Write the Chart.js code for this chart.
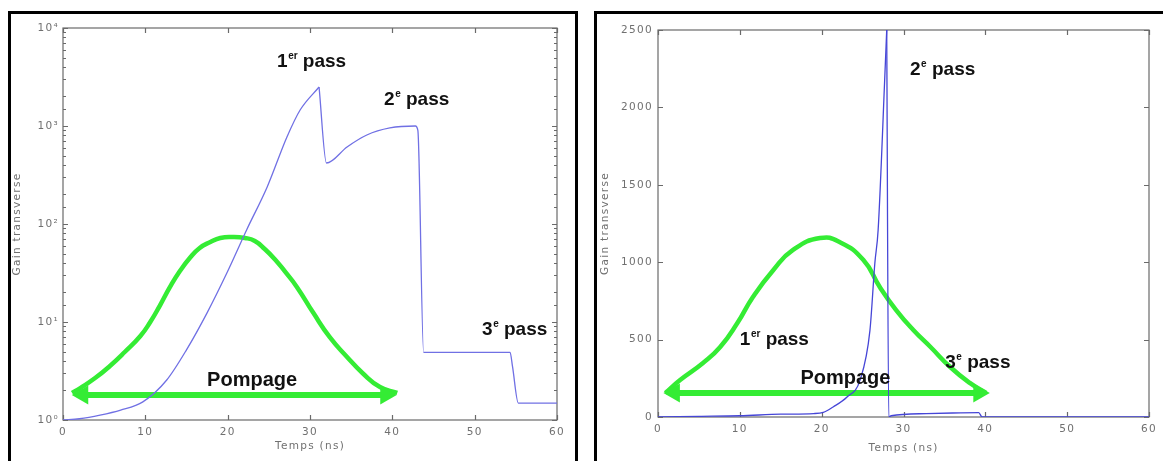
<!DOCTYPE html>
<html>
<head>
<meta charset="utf-8">
<script src="https://cdn.jsdelivr.net/npm/chart.js@4.4.1/dist/chart.umd.min.js"></script>
<style>
  body { margin: 0; background: #fff; width: 1163px; height: 461px; overflow: hidden; position: relative; }
  canvas { position: absolute; top: 0; }
  #leftChart { left: 0; }
  #rightChart { left: 586px; }
  .frame { position: absolute; top: 11px; border: 3px solid #000; border-bottom: none; height: 470px; pointer-events: none; }
  #leftFrame { left: 8px; width: 564px; }
  #rightFrame { left: 594px; width: 600px; }
</style>
</head>
<body>
<canvas id="leftChart" width="586" height="461"></canvas>
<canvas id="rightChart" width="577" height="461"></canvas>
<div class="frame" id="leftFrame"></div>
<div class="frame" id="rightFrame"></div>
<script>
// left panel (log scale)
const leftTime = [0, 2, 4.5, 7, 9.7, 12.6, 15.0, 17.5, 19.9, 22.3, 24.8, 27.2, 28.8, 31.1, 32.0, 34.5, 36.9, 39.7, 42.8, 43.1, 43.8, 54.3, 54.6, 55.3, 60];
const leftGain = [1, 1.03, 1.12, 1.26, 1.53, 2.56, 5.2, 12.4, 31.6, 87, 239, 773, 1456, 2500, 419, 611, 809, 955, 1000, 900, 4.9, 4.9, 3.5, 1.49, 1.49];
const leftPumpTime = [1.1, 2.1, 3.9, 5.7, 7.5, 9.4, 10.6, 11.8, 13.0, 14.2, 15.4, 16.6, 17.9, 19.1, 20.6, 22.1, 23.3, 24.5, 25.7, 27.0, 28.4, 30.4, 32.4, 34.5, 36.4, 38.5, 40.6];
const leftPumpGain = [1.89, 2.12, 2.68, 3.56, 4.94, 7.2, 10, 14.9, 22.8, 33.1, 45, 56.9, 65.5, 72, 73.7, 72, 67.1, 55.6, 44, 32.4, 22.8, 12.4, 7.0, 4.4, 3.0, 2.17, 1.89];
const leftArrowTime = [2.4, 39.2];
const leftArrowGain = [1.8, 1.8];

// right panel (linear scale)
const rightTime = [0, 5, 10, 15, 19, 20.2, 21.4, 23.1, 24.7, 25.9, 26.5, 26.9, 27.7, 27.95, 28.2, 28.5, 32.8, 36, 39.2, 39.6, 60];
const rightGain = [0, 4, 8, 18, 22, 30, 65, 129, 240, 560, 995, 1208, 2177, 2500, 0, 8, 22, 26, 28, 0, 0];
const rightPumpTime = [0.9, 2.7, 5.5, 7.6, 9.7, 11.6, 14.1, 16.5, 19.8, 22.2, 25.1, 27.1, 29.1, 31.2, 33.3, 35.7, 38.1, 40.1];
const rightPumpGain = [155, 239, 349, 452, 607, 775, 950, 1079, 1156, 1130, 1014, 840, 691, 562, 452, 323, 220, 155];
const rightArrowTime = [2.0, 39.2];
const rightArrowGain = [155, 155];

// annotations
const leftNoteBase = ['1', '2', '3', 'Pompage'];
const leftNoteSup = ['er', 'e', 'e', ''];
const leftNoteX = [26.0, 39.0, 50.9, 17.5];
const leftNoteY = [4500, 1842, 8.3, 2.56];
const rightNoteBase = ['2', '1', '3', 'Pompage'];
const rightNoteSup = ['e', 'er', 'e', ''];
const rightNoteX = [30.8, 10.0, 35.1, 17.4];
const rightNoteY = [2242, 497, 349, 252];

const xTickStep = 10;
const supDigits = ['\u2070', '\u00b9', '\u00b2', '\u00b3', '\u2074'];

const BLUE_L = 'rgb(112,112,228)';
const BLUE_R = 'rgb(70,70,215)';
const GREEN = 'rgb(52,236,52)';
const AXIS = '#6a6a6a';
const LABEL = '#707070';
const AXIS_FONT = { family: '"DejaVu Sans", sans-serif', size: 10.5 };

const zip = (xs, ys) => xs.map((x, i) => ({ x: x, y: ys[i] }));

// MATLAB-like box with inward ticks, plus the bold annotations
const matlabBox = {
    id: 'matlabBox',
    beforeDraw(chart) {
        // axis text in the picture is widely spaced
        chart.ctx.letterSpacing = '1.3px';
    },
    beforeDatasetsDraw(chart) {
        const { ctx, chartArea: a, scales } = chart;
        ctx.save();
        ctx.strokeStyle = AXIS;
        ctx.lineWidth = 1.2;
        ctx.strokeRect(a.left, a.top, a.right - a.left, a.bottom - a.top);
        ctx.beginPath();
        scales.x.ticks.forEach((t) => {
            const px = Math.round(scales.x.getPixelForValue(t.value)) + 0.5;
            ctx.moveTo(px, a.bottom); ctx.lineTo(px, a.bottom - 5);
            ctx.moveTo(px, a.top); ctx.lineTo(px, a.top + 5);
        });
        scales.y.ticks.forEach((t) => {
            const l = Math.log10(t.value);
            const major = scales.y.type !== 'logarithmic' || Math.abs(l - Math.round(l)) < 1e-9;
            const len = major ? 5 : 3;
            const py = Math.round(scales.y.getPixelForValue(t.value)) + 0.5;
            ctx.moveTo(a.left, py); ctx.lineTo(a.left + len, py);
            ctx.moveTo(a.right, py); ctx.lineTo(a.right - len, py);
        });
        ctx.stroke();
        ctx.restore();
    },
    afterDatasetsDraw(chart) {
        const n = chart.options.plugins.matlabBox;
        const { ctx, scales } = chart;
        ctx.save();
        ctx.letterSpacing = '0px';
        ctx.fillStyle = '#111';
        ctx.textBaseline = 'middle';
        ctx.textAlign = 'left';
        n.base.forEach((b, i) => {
            let px = scales.x.getPixelForValue(n.x[i]);
            const py = scales.y.getPixelForValue(n.y[i]);
            if (!n.sup[i]) {
                ctx.font = 'bold 20px "Liberation Sans", Arial, sans-serif';
                ctx.fillText(b, px, py);
                return;
            }
            ctx.font = 'bold 19px "Liberation Sans", Arial, sans-serif';
            ctx.fillText(b, px, py);
            px += ctx.measureText(b).width + 0.5;
            ctx.font = 'bold 10px "Liberation Sans", Arial, sans-serif';
            ctx.fillText(n.sup[i], px, py - 6);
            px += ctx.measureText(n.sup[i]).width;
            ctx.font = 'bold 19px "Liberation Sans", Arial, sans-serif';
            ctx.fillText(' pass', px, py);
        });
        ctx.restore();
    }
};

function buildChart(id, cfg) {
    const lineSet = (data, color, width) => ({
        data: data, borderColor: color, borderWidth: width,
        pointRadius: 0, cubicInterpolationMode: 'monotone', fill: false
    });
    // split the gain curve at its peak so the spike keeps a sharp tip
    const peak = cfg.gain.reduce((best, p, i) => (p.y > cfg.gain[best].y ? i : best), 0);
    const rise = lineSet(cfg.gain.slice(0, peak + 1), cfg.blue, 1.3);
    const fall = lineSet(cfg.gain.slice(peak), cfg.blue, 1.3);
    const pump = lineSet(cfg.pump, GREEN, 4.5);
    pump.cubicInterpolationMode = 'default';
    pump.tension = 0.5;
    const arrow = lineSet(cfg.arrow, GREEN, 6);
    arrow.pointRadius = 11;
    arrow.pointStyle = 'triangle';
    arrow.pointRotation = [-90, 90];
    arrow.pointBackgroundColor = GREEN;
    arrow.pointBorderWidth = 0;

    return new Chart(document.getElementById(id), {
        type: 'line',
        data: {
            datasets: [rise, fall, arrow, pump]
        },
        options: {
            responsive: false,
            animation: false,
            events: [],
            layout: { padding: { top: cfg.top, right: cfg.right, left: 0, bottom: 0 } },
            plugins: {
                legend: { display: false },
                tooltip: { enabled: false },
                matlabBox: cfg.notes
            },
            scales: {
                x: {
                    type: 'linear', min: 0, max: 60,
                    grid: { display: false, drawTicks: false }, border: { display: false },
                    ticks: { stepSize: xTickStep, padding: 6, color: LABEL, font: AXIS_FONT },
                    title: { display: true, text: 'Temps (ns)', color: LABEL, font: AXIS_FONT, padding: { top: 0, bottom: cfg.xTitlePad } },
                    afterFit: (s) => { s.height = cfg.xHeight; }
                },
                y: cfg.y
            }
        },
        plugins: [matlabBox]
    });
}

buildChart('leftChart', {
    gain: zip(leftTime, leftGain),
    pump: zip(leftPumpTime, leftPumpGain),
    arrow: zip(leftArrowTime, leftArrowGain),
    blue: BLUE_L,
    top: 28, right: 29, xHeight: 41, xTitlePad: 8,
    notes: { base: leftNoteBase, sup: leftNoteSup, x: leftNoteX, y: leftNoteY },
    y: {
        type: 'logarithmic', min: 1, max: 10000,
        grid: { display: false, drawTicks: false }, border: { display: false },
        ticks: {
            autoSkip: false, padding: 4, color: LABEL, font: AXIS_FONT,
            callback: (v) => {
                const l = Math.log10(v);
                return Math.abs(l - Math.round(l)) < 1e-9 ? '10' + supDigits[Math.round(l)] : '';
            }
        },
        title: { display: true, text: 'Gain transverse', color: LABEL, font: AXIS_FONT, padding: { top: 11, bottom: 0 } },
        afterFit: (s) => { s.width = 63; }
    }
});

buildChart('rightChart', {
    gain: zip(rightTime, rightGain),
    pump: zip(rightPumpTime, rightPumpGain),
    arrow: zip(rightArrowTime, rightArrowGain),
    blue: BLUE_R,
    top: 30, right: 14, xHeight: 44, xTitlePad: 6,
    notes: { base: rightNoteBase, sup: rightNoteSup, x: rightNoteX, y: rightNoteY },
    y: {
        type: 'linear', min: 0, max: 2500,
        grid: { display: false, drawTicks: false }, border: { display: false },
        ticks: { stepSize: 500, padding: 5, color: LABEL, font: AXIS_FONT, callback: (v) => String(v) },
        title: { display: true, text: 'Gain transverse', color: LABEL, font: AXIS_FONT, padding: { top: 13, bottom: 0 } },
        afterFit: (s) => { s.width = 72; }
    }
});
</script>
</body>
</html>
